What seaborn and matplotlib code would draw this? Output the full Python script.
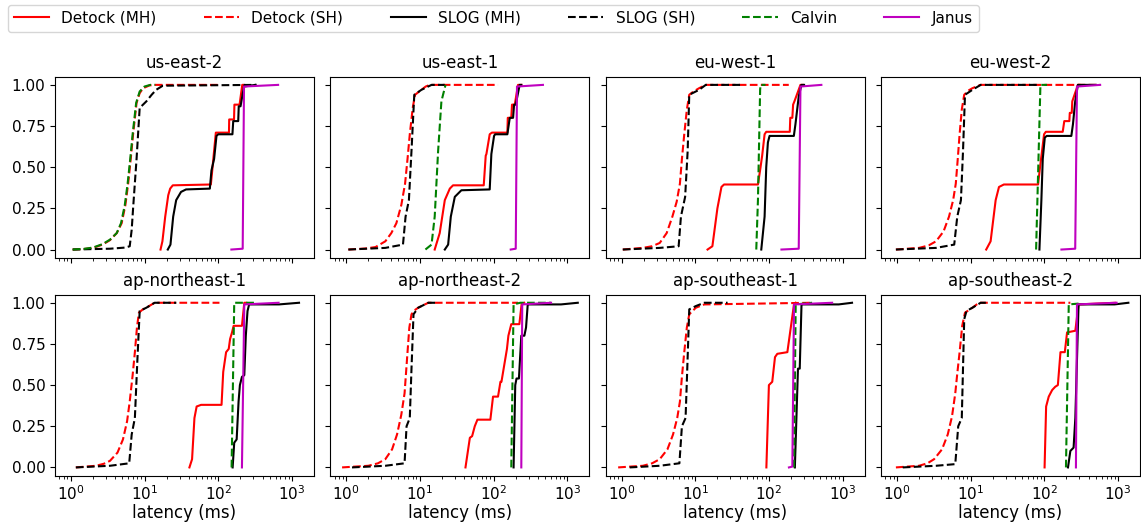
import matplotlib
matplotlib.use("Agg")
import matplotlib.pyplot as plt
from matplotlib.lines import Line2D
import pandas as pd
import seaborn as sns

SYSTEMS = ["Detock (MH)", "Detock (SH)", "SLOG (MH)", "SLOG (SH)", "Calvin", "Janus"]
REGIONS = ["us-east-2", "us-east-1", "eu-west-1", "eu-west-2",
           "ap-northeast-1", "ap-northeast-2", "ap-southeast-1", "ap-southeast-2"]
COLORS = {"Detock (MH)": "red", "Detock (SH)": "red", "SLOG (MH)": "black",
          "SLOG (SH)": "black", "Calvin": "green", "Janus": "m"}
DASHES = {"Detock (MH)": "", "Detock (SH)": (3.7, 1.6), "SLOG (MH)": "",
          "SLOG (SH)": (3.7, 1.6), "Calvin": (3.7, 1.6), "Janus": ""}

# CDF breakpoints per region: (latency in ms, cumulative fraction)
US_EAST_2 = {
    "Detock (MH)": [(16.5, 0), (17.5, 0.05), (19.1, 0.2), (21, 0.33), (22.3, 0.37), (24.2, 0.39),
                    (79.5, 0.395), (83, 0.48), (88, 0.6), (92.9, 0.71), (140, 0.71), (141, 0.79),
                    (164, 0.79), (166, 0.88), (195, 0.88), (212, 1.0), (225, 1.0)],
    "Detock (SH)": [(1.06, 0), (1.5, 0.003), (2.0, 0.01), (2.7, 0.03), (3.4, 0.057), (4.2, 0.1),
                    (4.9, 0.16), (5.5, 0.27), (6.0, 0.40), (6.5, 0.55), (7.0, 0.70), (7.8, 0.89),
                    (8.6, 0.95), (9.6, 0.98), (11.7, 0.997), (14, 1.0), (108, 1.0)],
    "SLOG (MH)": [(20.7, 0), (22.5, 0.03), (24.5, 0.2), (26.9, 0.3), (31.3, 0.35), (36.6, 0.365),
                  (77, 0.37), (81, 0.48), (88, 0.55), (94.8, 0.69), (100, 0.70), (156, 0.70),
                  (160, 0.78), (187, 0.78), (190, 0.87), (201, 0.87), (224, 0.99), (320, 1.0)],
    "SLOG (SH)": [(1.06, 0), (3.4, 0.005), (5.5, 0.012), (6.3, 0.02), (6.7, 0.12), (7.0, 0.25),
                  (7.8, 0.55), (8.6, 0.86), (10.6, 0.9), (12.5, 0.94), (14.4, 0.97),
                  (17.7, 0.995), (330, 1.0)],
    "Calvin": [(1.06, 0), (1.5, 0.004), (2.0, 0.012), (2.7, 0.033), (3.4, 0.06), (4.2, 0.1),
               (4.8, 0.16), (5.4, 0.27), (5.9, 0.4), (6.4, 0.55), (6.9, 0.7), (7.7, 0.89),
               (8.6, 0.96), (10, 0.99), (12, 1.0), (14, 1.0)],
    "Janus": [(151, 0), (215, 0.005), (224, 0.99), (650, 1.0)],
}
US_EAST_1 = {
    "Detock (MH)": [(15.9, 0), (18.6, 0.1), (21.8, 0.3), (25.5, 0.37), (28.2, 0.39), (73.6, 0.39),
                    (78.3, 0.57), (80, 0.58), (88.7, 0.70), (95, 0.71), (154, 0.71), (156, 0.8),
                    (174, 0.8), (178, 0.88), (194, 0.88), (215, 1.0), (238, 1.0)],
    "Detock (SH)": [(1.07, 0), (1.8, 0.006), (2.5, 0.015), (3.4, 0.05), (4.1, 0.1), (4.8, 0.16),
                    (5.6, 0.27), (6.3, 0.4), (6.8, 0.55), (7.3, 0.7), (8.0, 0.86), (8.6, 0.94),
                    (10.5, 0.97), (12, 0.99), (13.6, 1.0), (115, 1.0)],
    "SLOG (MH)": [(21.8, 0), (24.2, 0.03), (26.3, 0.2), (29.8, 0.32), (36.6, 0.36), (88.7, 0.365),
                  (93.4, 0.58), (101.6, 0.69), (105, 0.70), (154, 0.70), (166, 0.8), (184, 0.8),
                  (190, 0.88), (200, 0.88), (226, 1.0), (238, 1.0)],
    "SLOG (SH)": [(1.07, 0), (3.4, 0.01), (5.9, 0.03), (6.4, 0.2), (7.1, 0.3), (7.7, 0.6),
                  (8.4, 0.94), (10.5, 0.97), (14.4, 1.0), (21.8, 1.0)],
    "Calvin": [(11.9, 0), (14.4, 0.03), (15.9, 0.2), (17.7, 0.6), (19.6, 0.9), (22.3, 1.0)],
    "Janus": [(171, 0), (200, 0.005), (208, 0.99), (468, 1.0)],
}
EU_WEST_1 = {
    "Detock (MH)": [(14.7, 0), (17.1, 0.02), (20, 0.25), (22.7, 0.38), (24.6, 0.395), (71, 0.395),
                    (77, 0.5), (81, 0.57), (87.4, 0.70), (92, 0.715), (192, 0.715), (195, 0.8),
                    (208, 0.8), (213, 0.88), (222, 0.9), (268, 1.0), (290, 1.0)],
    "Detock (SH)": [(1.04, 0), (1.94, 0.01), (2.6, 0.02), (3.3, 0.04), (4.1, 0.1), (4.9, 0.2),
                    (5.6, 0.29), (6.2, 0.4), (6.6, 0.55), (7.1, 0.7), (7.7, 0.85), (8.3, 0.94),
                    (9.5, 0.96), (11.3, 0.98), (13.9, 1.0), (186, 1.0)],
    "SLOG (MH)": [(78.8, 0), (83, 0.1), (87.4, 0.2), (92, 0.5), (96.9, 0.65), (102, 0.69),
                  (218, 0.69), (229, 0.76), (254, 0.93), (276, 1.0), (300, 1.0)],
    "SLOG (SH)": [(1.04, 0), (3.3, 0.01), (5.96, 0.02), (6.4, 0.2), (7.3, 0.32), (7.9, 0.6),
                  (8.3, 0.94), (11.3, 0.97), (13.9, 1.0), (41, 1.0)],
    "Calvin": [(67.4, 0), (71, 0.3), (76, 0.97), (77, 1.0), (90, 1.0)],
    "Janus": [(148, 0), (254, 0.005), (268, 0.99), (515, 1.0)],
}
EU_WEST_2 = {
    "Detock (MH)": [(16.3, 0), (18.7, 0.05), (21.9, 0.3), (24.3, 0.38), (28.3, 0.395), (82.4, 0.395),
                    (88.7, 0.52), (93.4, 0.6), (99.4, 0.7), (105, 0.715), (178, 0.715), (187, 0.78),
                    (219, 0.78), (222, 0.83), (236, 0.83), (240, 0.9), (286, 1.0), (300, 1.0)],
    "Detock (SH)": [(0.97, 0), (2.0, 0.01), (2.7, 0.025), (3.4, 0.05), (4.3, 0.11), (5.1, 0.2),
                    (5.8, 0.3), (6.3, 0.4), (6.7, 0.55), (7.1, 0.7), (7.6, 0.85), (8.2, 0.94),
                    (9.3, 0.965), (10.6, 0.98), (13.7, 1.0), (573, 1.0)],
    "SLOG (MH)": [(86, 0), (91.4, 0.3), (95.4, 0.55), (101.7, 0.68), (108, 0.69), (233, 0.69),
                  (245, 0.76), (263, 0.9), (286, 1.0), (500, 1.0)],
    "SLOG (SH)": [(0.97, 0), (3.4, 0.01), (6.0, 0.03), (6.6, 0.2), (7.4, 0.3), (7.9, 0.6),
                  (8.4, 0.94), (10.6, 0.97), (13.7, 1.0), (84, 1.0)],
    "Calvin": [(77.5, 0), (88.7, 1.0), (109, 1.0)],
    "Janus": [(171, 0), (263, 0.005), (278, 0.99), (573, 1.0)],
}
AP_NORTHEAST_1 = {
    "Detock (MH)": [(40.7, 0), (44.2, 0.05), (47.6, 0.3), (51, 0.37), (58.6, 0.38), (111, 0.38),
                    (117, 0.58), (128, 0.7), (139, 0.72), (145, 0.78), (154, 0.82), (162, 0.86),
                    (210, 0.86), (226, 1.0), (240, 1.0)],
    "Detock (SH)": [(1.17, 0), (2.2, 0.01), (2.8, 0.022), (3.4, 0.04), (4.3, 0.09), (5.1, 0.17),
                    (5.8, 0.28), (6.3, 0.4), (6.9, 0.56), (7.4, 0.7), (7.9, 0.85), (8.4, 0.94),
                    (9.5, 0.96), (10.6, 0.97), (13.7, 1.0), (104, 1.0)],
    "SLOG (MH)": [(157, 0), (165, 0.15), (178, 0.17), (189, 0.4), (197, 0.5), (210, 0.55),
                  (226, 0.56), (237, 0.8), (250, 0.95), (263, 0.99), (670, 0.99), (1250, 1.0)],
    "SLOG (SH)": [(1.17, 0), (3.4, 0.01), (6.2, 0.025), (6.7, 0.2), (7.4, 0.3), (8.0, 0.65),
                  (8.6, 0.95), (10.6, 0.97), (13.7, 1.0), (27, 1.0)],
    "Calvin": [(152, 0), (165, 1.0), (307, 1.0)],
    "Janus": [(210, 0), (226, 0.99), (660, 1.0)],
}
AP_NORTHEAST_2 = {
    "Detock (MH)": [(41.6, 0), (47.7, 0.18), (51.2, 0.19), (55.6, 0.25), (60.4, 0.29), (90.5, 0.29),
                    (98.4, 0.43), (115, 0.43), (124, 0.52), (128, 0.52), (152, 0.72), (159, 0.8),
                    (174, 0.87), (224, 0.87), (240, 0.99), (260, 1.0)],
    "Detock (SH)": [(0.88, 0), (2.0, 0.01), (2.7, 0.025), (3.4, 0.05), (4.2, 0.11), (4.9, 0.2),
                    (5.6, 0.32), (6.2, 0.45), (6.8, 0.7), (7.2, 0.85), (7.7, 0.93), (8.5, 0.955),
                    (9.5, 0.97), (13, 1.0), (215, 1.0)],
    "SLOG (MH)": [(187, 0), (197, 0.5), (205, 0.54), (221, 0.54), (238, 0.8), (262, 0.8),
                  (276, 0.85), (291, 0.99), (824, 0.99), (1390, 1.0)],
    "SLOG (SH)": [(1.2, 0), (3.4, 0.01), (6.2, 0.025), (6.6, 0.25), (7.3, 0.3), (7.7, 0.6),
                  (8.2, 0.93), (9.5, 0.97), (13, 1.0), (17.8, 1.0)],
    "Calvin": [(174, 0), (187, 0.99), (230, 1.0), (600, 1.0)],
    "Janus": [(238, 0), (245, 0.99), (603, 1.0)],
}
AP_SOUTHEAST_1 = {
    "Detock (MH)": [(92.4, 0), (100, 0.5), (111, 0.52), (121, 0.67), (130, 0.69), (178, 0.7),
                    (219, 0.99), (231, 1.0)],
    "Detock (SH)": [(0.9, 0), (1.95, 0.01), (2.6, 0.025), (3.3, 0.05), (4.2, 0.11), (5.0, 0.2),
                    (5.7, 0.3), (6.2, 0.4), (6.6, 0.55), (7.1, 0.7), (7.7, 0.85), (8.3, 0.93),
                    (10.2, 0.97), (13.3, 0.99), (386, 1.0)],
    "SLOG (MH)": [(225, 0), (248, 0.6), (262, 0.6), (277, 0.99), (887, 0.99), (1343, 1.0)],
    "SLOG (SH)": [(1.29, 0), (3.3, 0.01), (6.1, 0.025), (6.6, 0.25), (7.4, 0.3), (7.8, 0.6),
                  (8.3, 0.96), (10.2, 0.98), (13.3, 1.0), (27.5, 1.0)],
    "Calvin": [(219, 0), (231, 0.99), (386, 1.0)],
    "Janus": [(187, 0), (208, 0.005), (219, 0.99), (721, 1.0)],
}
AP_SOUTHEAST_2 = {
    "Detock (MH)": [(101, 0), (106, 0.37), (115, 0.43), (128, 0.47), (141, 0.49), (153, 0.5),
                    (166, 0.7), (190, 0.7), (204, 0.82), (264, 0.83), (292, 0.99), (920, 1.0)],
    "Detock (SH)": [(0.97, 0), (2.0, 0.01), (2.6, 0.025), (3.2, 0.05), (4.1, 0.11), (4.9, 0.2),
                    (5.6, 0.31), (6.2, 0.45), (6.6, 0.57), (7.1, 0.7), (7.7, 0.86), (8.4, 0.94),
                    (10.6, 0.97), (13, 1.0), (226, 1.0)],
    "SLOG (MH)": [(210, 0), (226, 0.1), (250, 0.12), (264, 0.3), (292, 0.99), (900, 0.99),
                  (1385, 1.0)],
    "SLOG (SH)": [(1.2, 0), (3.4, 0.01), (6.2, 0.02), (6.8, 0.25), (7.6, 0.3), (8.2, 0.9),
                  (8.8, 0.95), (10.6, 0.97), (13.7, 1.0), (17.8, 1.0)],
    "Calvin": [(197, 0), (215, 0.99), (292, 0.995)],
    "Janus": [(269, 0), (278, 0.99), (960, 1.0)],
}

REGION_DATA = dict(zip(REGIONS, [US_EAST_2, US_EAST_1, EU_WEST_1, EU_WEST_2,
                                 AP_NORTHEAST_1, AP_NORTHEAST_2, AP_SOUTHEAST_1, AP_SOUTHEAST_2]))

rows = []
for region, series in REGION_DATA.items():
    for system in SYSTEMS:
        for i, (lat, frac) in enumerate(series[system]):
            rows.append({"region": region, "system": system, "step": i,
                         "latency": lat, "cdf": frac})
df = pd.DataFrame(rows)

plt.rcParams.update({"font.family": ["DejaVu Sans"], "xtick.labelsize": 11,
                     "ytick.labelsize": 11, "xtick.major.pad": 2.5})

fig, axes = plt.subplots(2, 4, figsize=(11.41, 5.25), dpi=100, sharex=True, sharey=True)
fig.subplots_adjust(left=0.0482, right=0.9991, top=0.854, bottom=0.094,
                    wspace=0.0635, hspace=0.203)

for ax, region in zip(axes.flat, REGIONS):
    ax.set_xscale("log")
    sub = df[df["region"] == region]
    sns.lineplot(data=sub, x="latency", y="cdf", hue="system", style="system",
                 hue_order=SYSTEMS, style_order=SYSTEMS, palette=COLORS, dashes=DASHES,
                 estimator=None, sort=False, linewidth=1.5, legend=False, ax=ax)
    ax.set_title(region, fontsize=12)
    ax.set_ylabel("")
    ax.set_xlabel("")

for ax in axes[1]:
    ax.set_xlabel("latency (ms)", fontsize=12, labelpad=1)

axes[0, 0].set_xlim(0.61, 1990)
axes[0, 0].set_ylim(-0.05, 1.05)
axes[0, 0].set_yticks([0, 0.25, 0.5, 0.75, 1.0])
axes[0, 0].set_yticklabels(["0.00", "0.25", "0.50", "0.75", "1.00"])

handles = [Line2D([], [], color=COLORS[s], lw=1.5,
                  linestyle="-" if DASHES[s] == "" else (0, DASHES[s])) for s in SYSTEMS]
fig.legend(handles, SYSTEMS, loc="upper left", bbox_to_anchor=(0.007, 0.991), ncol=6,
           fontsize=11, handlelength=2.3, columnspacing=3.1, borderaxespad=0,
           frameon=True)

fig.savefig("out.png", dpi=100)
